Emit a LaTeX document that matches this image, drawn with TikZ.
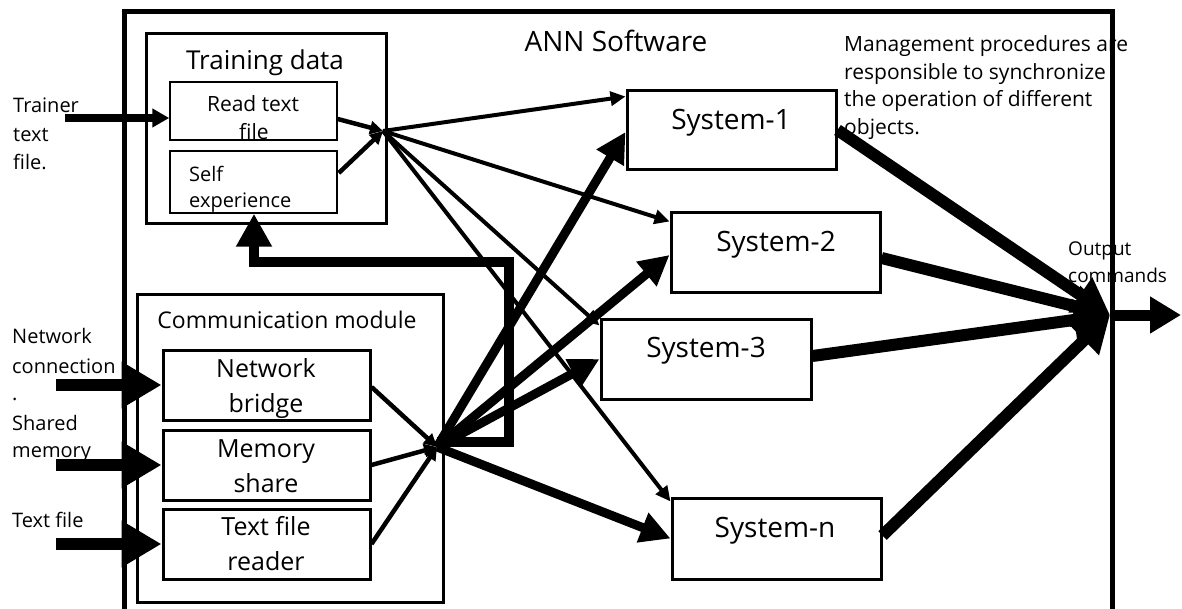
\documentclass[tikz,border=0pt]{standalone}
\usepackage{fontspec}
\setmainfont{Open Sans}
\usetikzlibrary{arrows.meta,calc}

\begin{document}
\begin{tikzpicture}[x=1pt,y=-1pt,
  frame/.style={line width=5pt},
  group/.style={draw, line width=3pt, rectangle, inner sep=0pt},
  item/.style={draw, line width=1.5pt, rectangle, inner sep=0pt},
  sysbox/.style={draw, line width=3pt, rectangle, inner sep=0pt},
  txt/.style={inner sep=0pt, anchor=base west},
  ctxt/.style={inner sep=0pt, anchor=base},
  fs19/.style={font=\fontsize{19}{23}\selectfont},
  fs20/.style={font=\fontsize{20}{24}\selectfont},
  fs21/.style={font=\fontsize{21}{25}\selectfont},
  fs23/.style={font=\fontsize{23}{27}\selectfont},
  fs25/.style={font=\fontsize{25}{29}\selectfont},
  fs26/.style={font=\fontsize{26}{30}\selectfont},
  fs28/.style={font=\fontsize{28}{32}\selectfont},
  smallarr/.style={line width=4.5pt, -{Triangle[length=13pt,width=13pt]}},
  thinarr/.style={line width=4pt, -{Triangle[length=15pt,width=14pt]}},
  thickarr/.style={line width=9pt, -{Triangle[length=30pt,width=30pt]}},
  outarr/.style={line width=12pt, -{Triangle[length=36pt,width=40pt]}},
  inarr/.style={line width=12pt, -{Triangle[length=40pt,width=44pt]}},
  trarr/.style={line width=8pt, -{Triangle[length=17pt,width=18pt]}},
  fbarr/.style={line width=10pt, -{Triangle[length=33pt,width=34pt]}},
  exitarr/.style={line width=11pt, -{Triangle[length=31pt,width=35pt]}}
]
\useasboundingbox (0,0) rectangle (1182,609);

% outer software frame (open at the bottom)
\draw[frame] (124,640) -- (124,12) -- (1112,12) -- (1112,640);

% training data group
\node[group, minimum width=240pt, minimum height=190pt] (train) at (266,129) {};
\node[item, minimum width=167pt, minimum height=58pt] (readtf) at (253.5,111) {};
\node[item, minimum width=167pt, minimum height=62pt] (selfexp) at (253.5,182) {};

% communication module group
\node[group, minimum width=306pt, minimum height=307pt] (comm) at (290,448.5) {};
\node[sysbox, minimum width=207pt, minimum height=70pt] (nb) at (266.5,385) {};
\node[sysbox, minimum width=207pt, minimum height=70pt] (ms) at (266.5,465) {};
\node[sysbox, minimum width=207pt, minimum height=70pt] (tfr) at (266.5,544) {};

% systems
\node[sysbox, minimum width=209pt, minimum height=79pt] (s1) at (731.5,130.5) {};
\node[sysbox, minimum width=209pt, minimum height=80pt] (s2) at (775.5,253) {};
\node[sysbox, minimum width=210pt, minimum height=80pt] (s3) at (706,359) {};
\node[sysbox, minimum width=209pt, minimum height=81pt] (sn) at (776.5,538.5) {};

% junction points
\coordinate (h1) at (383,131);
\coordinate (h2) at (437,447);
\coordinate (h3) at (1110,315);

% texts
\node[ctxt, fs28] (tann) at (616,52) {ANN Software};
\node[ctxt, fs26] (ttrain) at (265,70) {Training data};
\node[ctxt, fs21] (tread1) at (253,112) {Read text};
\node[ctxt, fs21] (tread2) at (254,140) {file};
\node[txt, fs20] (tself1) at (189,182) {Self};
\node[txt, fs20] (tself2) at (189,208) {experience};
\node[ctxt, fs23] (tcomm) at (287,328) {Communication module};
\node[ctxt, fs25] (tnb1) at (266,377) {Network};
\node[ctxt, fs25] (tnb2) at (266,412) {bridge};
\node[ctxt, fs25] (tms1) at (266,457) {Memory};
\node[ctxt, fs25] (tms2) at (266,492) {share};
\node[ctxt, fs25] (ttf1) at (266,535) {Text file};
\node[ctxt, fs25] (ttf2) at (266,570) {reader};
\node[ctxt, fs28] (ts1) at (731,130) {System-1};
\node[ctxt, fs28] (ts2) at (776,252) {System-2};
\node[ctxt, fs28] (ts3) at (706,357) {System-3};
\node[ctxt, fs28] (tsn) at (775,537) {System-n};
\node[txt, fs21] (tm1) at (844,52) {Management procedures are};
\node[txt, fs21] (tm2) at (844,80) {responsible to synchronize};
\node[txt, fs21] (tm3) at (844,107) {the operation of different};
\node[txt, fs21] (tm4) at (844,135) {objects.};
\node[txt, fs19] (tout1) at (1068,256) {Output};
\node[txt, fs19] (tout2) at (1068,283) {commands};
\node[txt, fs20] (ttr1) at (13,113) {Trainer};
\node[txt, fs20] (ttr2) at (13,142) {text};
\node[txt, fs20] (ttr3) at (13,170) {file.};
\node[txt, fs20] (tnc1) at (12,343) {Network};
\node[txt, fs20] (tnc2) at (12,373) {connection};
\node[txt, fs20] (tnc3) at (12,400) {.};
\node[txt, fs20] (tsh1) at (12,430) {Shared};
\node[txt, fs20] (tsh2) at (12,457) {memory};
\node[txt, fs20] (ttx) at (12,527) {Text file};

% external inputs
\coordinate (trin) at (65,118);
\draw[trarr] (trin) -- (readtf.west |- trin);
\coordinate (netin) at (56,385);
\coordinate (memin) at (56,465);
\coordinate (txtin) at (56,544);
\draw[inarr] (netin) -- (nb.west);
\draw[inarr] (memin) -- (ms.west);
\draw[inarr] (txtin) -- (tfr.west);

% training data into first junction
\draw[smallarr] ($(readtf.east)+(0,8)$) -- (h1);
\draw[smallarr] ($(selfexp.east)+(1,-9)$) -- (h1);

% communication boxes into second junction
\draw[smallarr] ($(nb.east)+(0,2)$) -- (h2);
\draw[smallarr] (ms.east) -- (h2);
\draw[smallarr] (tfr.east) -- (h2);

% feedback to self experience
\coordinate (fbup) at (509,262);
\draw[fbarr] ($(h2)+(0,-5)$) -| (fbup) -| ($(selfexp.south)+(0.5,0)$);

% first junction to systems
\draw[thinarr] (h1) -- ($(s1.north west)+(0,7)$);
\draw[thinarr] (h1) -- ($(s2.north west)+(0,10)$);
\draw[thinarr] (h1) -- ($(s3.north west)+(0,8)$);
\draw[thinarr] (h1) -- ($(sn.north west)+(0,5)$);

% second junction to systems
\draw[thickarr] (h2) -- ($(s1.west)+(0,1.5)$);
\draw[thickarr] (h2) -- ($(s2.west)+(0,2)$);
\draw[thickarr] (h2) -- (s3.west);
\draw[thickarr] (h2) -- (sn.west);

% systems to output
\draw[outarr] ($(s1.east)+(0,-0.5)$) -- (h3);
\draw[outarr] ($(s2.east)+(0,5)$) -- (h3);
\draw[outarr] ($(s3.east)+(0,-3)$) -- (h3);
\draw[outarr] ($(sn.east)+(0,-3)$) -- (h3);

% output commands
\coordinate (outend) at (1181,315);
\draw[exitarr] ($(h3)+(2,0)$) -- (outend);
\end{tikzpicture}
\end{document}
